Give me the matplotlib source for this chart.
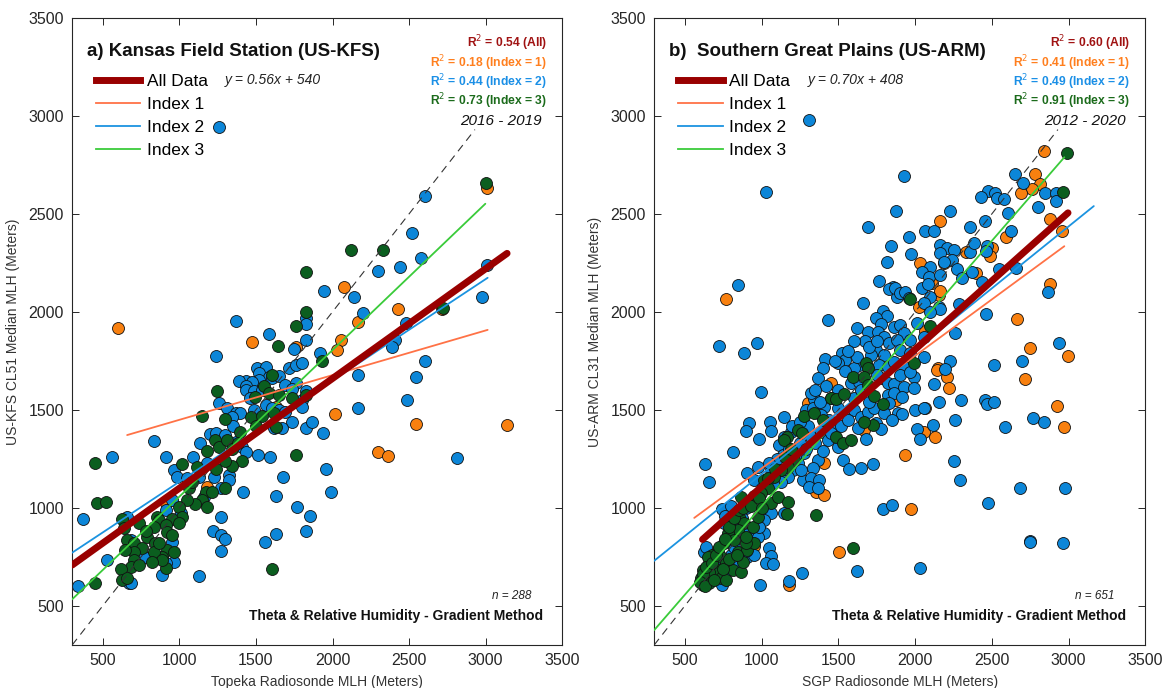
"""
Two-panel scatter: ceilometer median MLH vs radiosonde MLH at US-KFS and US-ARM.
Output: out.png
"""
import matplotlib

matplotlib.use("Agg")
import matplotlib.pyplot as plt
import numpy as np
from matplotlib.lines import Line2D

plt.rcParams["font.family"] = ["Liberation Sans", "DejaVu Sans"]

# ---------------------------------------------------------------- panel a data
KFS_I1_X = [600, 1476, 1759, 2072, 2166, 2427, 2715, 2055, 2029, 2018, 2545, 3139,
            2299, 2360, 3012, 1182, 1628, 910]
KFS_I1_Y = [1916, 1848, 1819, 2127, 1948, 2016, 2016, 1856, 1807, 1479, 1428, 1421,
            1285, 1262, 2633, 1108, 1516, 1023]

KFS_I2_X = [1258, 1824, 1824, 1371, 1584, 1824, 1748, 1240,
            1508, 1563, 1519, 1584, 1519, 1432, 1389, 1476, 1432, 1432, 1486, 1606,
            1650, 1715, 1759, 1802, 1693, 1759, 1737, 1824, 1802,
            1258, 1312, 1367, 1399, 1345, 1486, 1563, 1606, 1650, 1693, 1737, 1802,
            1824, 1867, 1617, 1671,
            833, 1132, 1203, 1240, 1301, 1367, 1410, 1432, 1513, 1595, 1676, 1632,
            1769, 1850, 1824, 1628, 1558, 1275, 1219, 1269, 1297, 1269, 1415, 557,
            910, 370, 337, 526, 1127, 670,
            964, 986, 1051, 1127, 1225, 1323, 1269, 1323, 1160, 953, 910, 1008,
            659, 681, 801, 953, 768, 888, 964, 910, 681,
            2606, 2521, 2580, 2442, 2294, 1946, 2142, 2976, 3008, 2199, 2480, 2405,
            2388, 1920, 2601, 2164, 2542, 2486, 2166, 1941, 2810,
            1960, 1990, 1090, 1180, 1350, 1460, 1540]
KFS_I2_Y = [2941, 1967, 1938, 1955, 1887, 1856, 1809, 1776,
            1711, 1717, 1686, 1669, 1652, 1649, 1649, 1643, 1621, 1601, 1597, 1660,
            1672, 1711, 1728, 1737, 1626, 1635, 1604, 1597, 1550,
            1536, 1507, 1482, 1482, 1465, 1499, 1524, 1507, 1499, 1490, 1439, 1516,
            1405, 1439, 1405, 1405,
            1341, 1332, 1376, 1380, 1371, 1337, 1312, 1286, 1269, 1261, 1159, 1060,
            1002, 960, 883, 864, 824, 951, 881, 861, 841, 781, 1082, 1257,
            1257, 941, 602, 733, 653, 614,
            1193, 1155, 1150, 1159, 1159, 1167, 1103, 1142, 1057, 1040, 989, 972,
            955, 836, 742, 827, 747, 657, 725, 716, 618,
            2592, 2404, 2277, 2228, 2206, 2106, 2077, 2077, 2237, 1996, 1941, 1856,
            1819, 1788, 1749, 1678, 1669, 1550, 1511, 1383, 1255,
            1200, 1080, 1260, 1230, 1420, 1560, 1600]

KFS_I3_X = [1828, 1824, 1759, 1645,
            1602, 1552, 1243, 1497, 1584, 1650, 1737, 1824, 1145, 1301, 1465, 1541,
            1617, 1628, 1399, 452, 463, 518, 1018, 1116, 1182, 1232, 1258, 1312,
            1345, 1410, 1345, 1301, 1759, 1606, 452,
            1062, 1171, 1214, 1301, 1149, 1105, 1182, 1051, 997, 1018, 953, 997,
            855, 866, 910, 920, 953, 833, 735, 627, 637, 659, 703, 757, 790, 844,
            920, 964, 888, 833, 703, 648, 703, 681, 616, 627, 659, 735, 910, 888,
            822,
            3000, 2122, 2333, 1933, 2720,
            780, 870, 1080, 1240, 1380, 1500]
KFS_I3_Y = [2205, 1997, 1928, 1826,
            1677, 1621, 1597, 1563, 1584, 1575, 1558, 1575, 1468, 1451, 1461, 1468,
            1482, 1414, 1388, 1230, 1023, 1031, 1222, 1206, 1290, 1346, 1308, 1346,
            1298, 1240, 1213, 1240, 1271, 686, 614,
            1099, 1082, 1082, 1099, 1040, 1017, 1006, 1040, 1006, 955, 943, 921,
            955, 938, 912, 878, 861, 900, 921, 941, 895, 836, 819, 793, 852, 819,
            784, 776, 750, 776, 776, 784, 733, 699, 686, 631, 640, 708, 691, 733,
            725,
            2656, 2315, 2315, 1749, 2020,
            880, 820, 1130, 1200, 1330, 1420]

# ---------------------------------------------------------------- panel b data
SGP_I1_X = [765, 1452, 1300, 1875, 1669, 1408, 1354, 1408, 1506, 1180, 952,
            2838, 2779, 2812, 2762, 2692, 2164, 2881, 2955, 2592, 2333, 2501, 2490,
            2034, 2186, 2399, 2110, 2153, 2023, 2164, 2881, 2664, 2066, 2751, 2996,
            2147,
            2718, 2142, 2207, 2218, 2925, 2972, 2055, 2127, 1936, 1975, 2066]
SGP_I1_Y = [2066, 1638, 1533, 1550, 1397, 1227, 1082, 1065, 773, 606, 807,
            2822, 2703, 2652, 2625, 2605, 2465, 2476, 2414, 2384, 2307, 2324, 2285,
            2251, 2248, 2197, 2146, 2086, 2026, 2108, 2140, 1965, 1904, 1817, 1776,
            1712,
            1657, 1703, 1669, 1609, 1519, 1410, 1388, 1359, 1269, 992, 1511]

SGP_I2_X = [1306, 1030, 1875, 1693, 1845, 1817, 1767, 1854, 1832, 1882, 843, 1662,
            1791, 1817, 1434, 1745, 1778, 1623, 1691, 1756, 1865, 1673, 1799, 1832,
            724, 882, 971, 1521, 1545, 1500, 1410, 1397, 1745, 1799, 1712, 1636,
            1604, 1767, 1821, 1865,
            1365, 995, 1343, 1343, 1321, 1582, 1636, 1778, 1821, 1865, 1821, 1865,
            1832, 1886,
            1289, 1332, 1408, 1387, 1441, 1495, 1549, 1604, 1647, 1691, 1734,
            1147, 1056, 919, 898, 1061, 1191, 980, 815, 630, 659, 1147, 1115, 1137,
            1278, 1321, 1387, 1430, 1473, 1495, 1626, 1745, 1799, 1528, 1571, 1647,
            1723, 1369, 1332, 1267, 1321, 1376, 1310, 1365,
            1278, 1234, 1202, 1256, 1169, 1126, 1071, 1017, 974, 908, 952, 1061,
            741, 1789, 1849, 1147, 1061, 1017, 974, 930, 1017, 963, 1050, 1061,
            1028, 991, 1180, 1260, 1623, 626,
            745, 691, 800, 908, 821, 952, 882, 756, 974, 1071,
            1929, 2653, 2701, 2473, 2522, 2429, 2533, 2581, 2844, 2918, 2918, 2798,
            2603, 2229, 2066, 2120, 2457, 2360, 2625, 1962, 1973, 2164, 2207, 2251,
            2164, 2240, 2186, 2273, 2099, 2044, 2088, 2164, 2305, 2370, 2360, 2381,
            2468, 2464,
            2436, 2544, 2659, 2283, 2462, 2866, 2262, 2935, 2696, 2512, 2229, 2192,
            1871, 1903, 1936, 1958, 2044, 2081, 2099, 2055, 2153, 2164, 2099, 2012,
            1903, 1925, 1881, 1968, 2055, 1903, 1968, 2055, 1925, 1990, 1903,
            1925, 1914, 1990, 1968, 2125, 2157, 2299, 2457, 2468, 2512, 2257, 2768,
            2838, 2583, 1914, 2001, 2055, 2012, 2034, 2116, 2255, 2294, 2685, 2975,
            2473, 2751, 2961, 2029, 2747,
            1180, 1220, 1250, 1290, 1350, 1400, 1450, 1520, 1560, 1600, 1650, 1700,
            1750, 1500, 1540, 1450, 1420, 1380, 1620, 1700, 1750, 1600, 1560, 1480,
            1300, 1200, 1100, 1050, 1000, 950, 900, 870, 820, 780, 1150, 1250, 1350,
            1680, 1780, 1850,
            700, 660, 760, 840, 900, 930, 980, 640, 800, 760]
SGP_I2_Y = [2979, 2613, 2515, 2435, 2336, 2256, 2157, 2129, 2115, 2077, 2137, 2047,
            2006, 1979, 1957, 1967, 1938, 1918, 1899, 1899, 1924, 1851, 1873, 1839,
            1827, 1788, 1839, 1792, 1754, 1737, 1761, 1712, 1805, 1780, 1780, 1729,
            1712, 1729, 1720, 1746,
            1660, 1589, 1592, 1553, 1584, 1635, 1643, 1660, 1635, 1632, 1575, 1584,
            1533, 1482,
            1499, 1507, 1516, 1473, 1448, 1507, 1482, 1499, 1465, 1490, 1507,
            1461, 1439, 1434, 1392, 1393, 1388, 1349, 1286, 1222, 1133, 1363, 1320,
            1269,
            1397, 1363, 1388, 1346, 1397, 1312, 1405, 1431, 1482, 1244, 1196, 1201,
            1222, 1244, 1201, 1142, 1150, 1142, 1108, 1099,
            1278, 1227, 1193, 1193, 1159, 1133, 1125, 1116, 1210, 1176, 1142, 1193,
            992, 992, 1014, 972, 972, 938, 904, 887, 870, 853, 793, 754,
            716, 606, 628, 665, 676, 776,
            606, 648, 759, 750, 801, 759, 870, 921, 853, 711,
            2693, 2703, 2656, 2617, 2608, 2584, 2579, 2574, 2605, 2608, 2564, 2533,
            2506, 2516, 2414, 2414, 2465, 2435, 2414, 2384, 2293, 2341, 2324, 2316,
            2299, 2265, 2256, 2217, 2231, 2205, 2180, 2188, 2171, 2205, 2307, 2353,
            2336, 2312,
            2154, 2219, 2225, 2038, 1989, 2103, 1890, 1839, 1751, 1729, 1751, 1707,
            2120, 2094, 2103, 2069, 2120, 2142, 2077, 2043, 2026, 2015, 2001, 1941,
            1933, 1890, 1856, 1856, 1873, 1805, 1788, 1771, 1720, 1669, 1678,
            1618, 1567, 1609, 1694, 1630, 1538, 1550, 1550, 1528, 1540, 1448, 1460,
            1439, 1410, 1478, 1499, 1507, 1400, 1351, 1421, 1240, 1142, 1103, 1103,
            1023, 832, 822, 694, 827,
            1300, 1260, 1330, 1300, 1330, 1290, 1380, 1420, 1450, 1560, 1600, 1540,
            1680, 1600, 1700, 1560, 1620, 1540, 1770, 1820, 1850, 1850, 1800, 1750,
            1420, 1420, 1250, 1230, 1100, 1060, 1000, 950, 900, 860, 1200, 1440, 1600,
            1350, 1400, 1450,
            700, 720, 660, 700, 780, 820, 900, 800, 1010, 960]

SGP_I3_X = [1680, 1691,
            1452, 1484, 1539, 1593, 1669, 1691, 1734, 1789,
            1278, 1343, 1397, 1484, 1528, 1582, 1723, 1669, 1165, 1147, 1234,
            1213, 1169, 1126, 1082, 1017, 1039, 995, 952, 908, 865, 1061, 1104,
            1169, 1165, 1354, 1593,
            800, 854, 887, 843, 778, 821, 756, 713, 680, 648, 735, 767, 713, 659,
            615, 604, 615, 659, 735, 767, 811, 865, 876, 843, 908, 952, 898, 941,
            974,
            2990, 2964, 1968, 2099, 1990,
            620, 640, 680, 700, 720, 760, 790, 820, 850, 880, 930, 980, 1040, 1090,
            1150, 1190, 1260, 600, 630, 690, 750, 790, 840, 900, 1000]
SGP_I3_Y = [1737, 1712,
            1558, 1553, 1581, 1669, 1669, 1626, 1570, 1528,
            1470, 1482, 1448, 1363, 1329, 1346, 1422, 1439, 1363, 1346, 1397,
            1244, 1210, 1193, 1159, 1142, 1099, 1074, 1057, 1023, 1057, 1023, 1057,
            1031, 966, 963, 793,
            938, 955, 921, 887, 870, 836, 818, 785, 759, 750, 750, 716, 682, 674,
            682, 640, 606, 614, 640, 631, 682, 674, 725, 776, 785, 818, 818, 904,
            955,
            2812, 2613, 2066, 1928, 1741,
            660, 700, 720, 760, 800, 840, 900, 950, 990, 1000, 1010, 1050, 1150, 1200,
            1260, 1300, 1380, 620, 600, 630, 690, 740, 760, 850, 1000]

# fit lines: slope, intercept, x start, x end
KFS_FITS = {
    "all": (0.56, 540, 300, 3140),
    "i1": (0.228, 1221, 659, 3013),
    "i2": (0.517, 616, 300, 3013),
    "i3": (0.748, 309, 300, 2998),
}
SGP_FITS = {
    "all": (0.70, 408, 615, 2996),
    "i1": (0.575, 626, 561, 2972),
    "i2": (0.632, 540, 300, 3164),
    "i3": (0.903, 105, 300, 2972),
}

KFS_R2 = [0.54, 0.18, 0.44, 0.73]
SGP_R2 = [0.60, 0.41, 0.49, 0.91]

TICKS = [500, 1000, 1500, 2000, 2500, 3000, 3500]
LIMS = (300, 3500)
ONE_TO_ONE = [300, 2930]

# colours
C_ALL = "#990000"
C_I1_LINE, C_I2_LINE, C_I3_LINE = "#ff7246", "#1b93e0", "#3acb3a"
C_I1_PT, C_I2_PT, C_I3_PT = "#f8800f", "#0c86d8", "#0b5e1f"
R2_COLORS = ["#a01212", "#ff7f1e", "#1a8fe6", "#1b6b1b"]
R2_LABELS = ["All", "Index = 1", "Index = 2", "Index = 3"]


def draw_panel(ax, pts, fits, r2, title, eq, years, n, xlabel, ylabel):
    for (xs, ys), col in zip(pts, [C_I1_PT, C_I2_PT, C_I3_PT]):
        ax.scatter(xs, ys, s=74, c=col, edgecolors="#111111", linewidths=0.6, zorder=2)

    ax.plot(ONE_TO_ONE, ONE_TO_ONE, ls=(0, (7, 5)), color="#333333", lw=0.8, zorder=3)

    for key, col, lw in [("i1", C_I1_LINE, 1.3), ("i2", C_I2_LINE, 1.3),
                         ("i3", C_I3_LINE, 1.3), ("all", C_ALL, 5)]:
        m, b, x0, x1 = fits[key]
        xx = np.array([x0, x1])
        ax.plot(xx, m * xx + b, color=col, lw=lw, solid_capstyle="round", zorder=4)

    ax.set_xlim(LIMS)
    ax.set_ylim(LIMS)
    ax.set_xticks(TICKS)
    ax.set_yticks(TICKS)
    ax.tick_params(direction="in", top=True, right=True, length=5, width=0.7,
                   labelsize=11.5, colors="#262626", pad=6)
    for sp in ax.spines.values():
        sp.set_color("#262626")
        sp.set_linewidth(0.8)
    ax.set_xlabel(xlabel, fontsize=10, color="#333333", labelpad=5)
    ax.set_ylabel(ylabel, fontsize=10, color="#333333", labelpad=6)

    ax.text(0.03, 0.946, title, transform=ax.transAxes, fontsize=13.5,
            fontweight="bold", va="center", ha="left", color="#111111")

    handles = [Line2D([], [], color=C_ALL, lw=5),
               Line2D([], [], color=C_I1_LINE, lw=1.3),
               Line2D([], [], color=C_I2_LINE, lw=1.3),
               Line2D([], [], color=C_I3_LINE, lw=1.3)]
    ax.legend(handles, ["All Data", "Index 1", "Index 2", "Index 3"],
              loc="upper left", bbox_to_anchor=(0.049, 0.91), frameon=False,
              fontsize=12.5, handlelength=2.55, handletextpad=0.35,
              labelspacing=0.45, borderaxespad=0, borderpad=0)

    ax.text(0.312, 0.901, eq, transform=ax.transAxes, fontsize=10,
            style="italic", va="center", ha="left", color="#222222")

    for i, (val, lab, col) in enumerate(zip(r2, R2_LABELS, R2_COLORS)):
        ax.text(0.969, 0.959 - i * 0.0305, f"R$^2$ = {val:.2f} ({lab})",
                transform=ax.transAxes, fontsize=8.7, fontweight="bold",
                color=col, ha="right", va="center")

    ax.text(0.959, 0.836, years, transform=ax.transAxes, fontsize=11,
            style="italic", ha="right", va="center", color="#111111")
    ax.text(0.937, 0.078, f"n = {n}", transform=ax.transAxes, fontsize=8.5,
            style="italic", ha="right", va="center", color="#222222")
    ax.text(0.961, 0.047, "Theta & Relative Humidity - Gradient Method",
            transform=ax.transAxes, fontsize=10, fontweight="bold",
            ha="right", va="center", color="#111111")


def main():
    fig = plt.figure(figsize=(11.64, 6.88), dpi=100)
    fig.patch.set_facecolor("white")
    ax_a = fig.add_axes([0.062, 0.0625, 0.421, 0.9115])
    ax_b = fig.add_axes([0.562, 0.0625, 0.422, 0.9115])

    draw_panel(ax_a,
               [(KFS_I1_X, KFS_I1_Y), (KFS_I2_X, KFS_I2_Y), (KFS_I3_X, KFS_I3_Y)],
               KFS_FITS, KFS_R2, "a) Kansas Field Station (US-KFS)",
               "y = 0.56x + 540", "2016 - 2019", 288,
               "Topeka Radiosonde MLH (Meters)", "US-KFS CL51 Median MLH (Meters)")
    draw_panel(ax_b,
               [(SGP_I1_X, SGP_I1_Y), (SGP_I2_X, SGP_I2_Y), (SGP_I3_X, SGP_I3_Y)],
               SGP_FITS, SGP_R2, "b)  Southern Great Plains (US-ARM)",
               "y = 0.70x + 408", "2012 - 2020", 651,
               "SGP Radiosonde MLH (Meters)", "US-ARM CL31 Median MLH (Meters)")

    fig.savefig("out.png", dpi=100, facecolor="white")
    plt.close(fig)


if __name__ == "__main__":
    main()
